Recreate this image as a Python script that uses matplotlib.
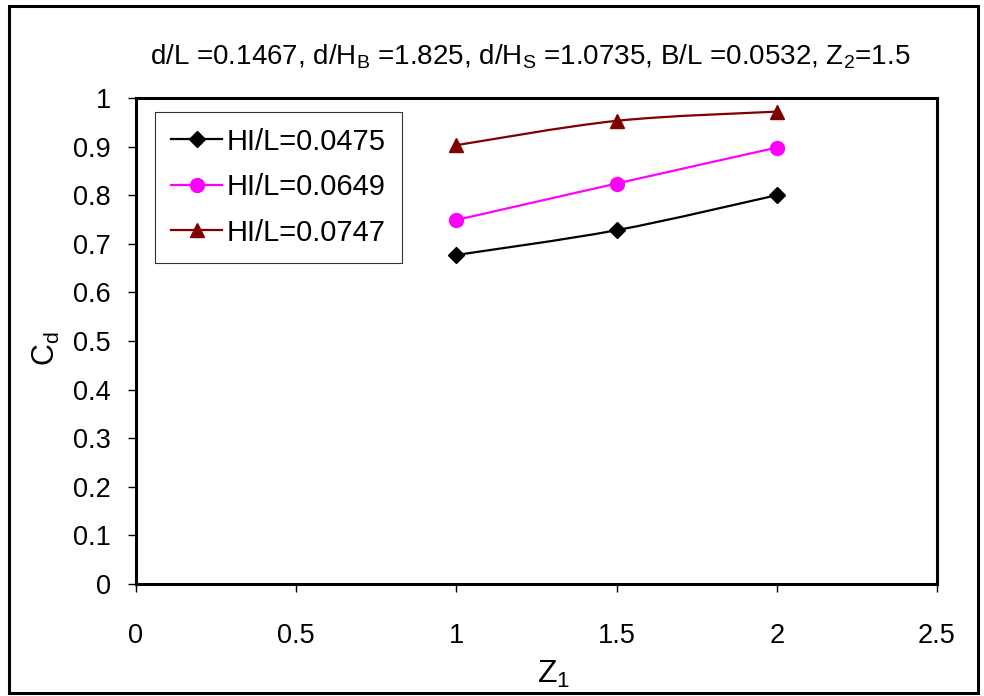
import numpy as np
import matplotlib.pyplot as plt
from matplotlib.path import Path
from matplotlib.patches import PathPatch, Rectangle

plt.rcParams['font.family'] = ['Liberation Sans', 'DejaVu Sans']
plt.rcParams['mathtext.fontset'] = 'custom'
plt.rcParams['mathtext.rm'] = 'Liberation Sans'
plt.rcParams['mathtext.it'] = 'Liberation Sans'

# data
z1 = [1.0, 1.5, 2.0]
cd_0475 = [0.677, 0.728, 0.800]
cd_0649 = [0.749, 0.824, 0.898]
cd_0747 = [0.903, 0.953, 0.972]
labels = ['HI/L=0.0475', 'HI/L=0.0649', 'HI/L=0.0747']
xticks = [0, 0.5, 1, 1.5, 2, 2.5]
yticks = [0, 0.1, 0.2, 0.3, 0.4, 0.5, 0.6, 0.7, 0.8, 0.9, 1]


def smooth_path(x, y):
    # bezier through the points, like a spreadsheet "smoothed line"
    x = np.asarray(x, float)
    y = np.asarray(y, float)
    verts = [(x[0], y[0])]
    codes = [Path.MOVETO]
    n = len(x)
    for i in range(n - 1):
        p0 = (x[max(i - 1, 0)], y[max(i - 1, 0)])
        p1 = (x[i], y[i])
        p2 = (x[i + 1], y[i + 1])
        p3 = (x[min(i + 2, n - 1)], y[min(i + 2, n - 1)])
        c1 = (p1[0] + (p2[0] - p0[0]) / 6, p1[1] + (p2[1] - p0[1]) / 6)
        c2 = (p2[0] - (p3[0] - p1[0]) / 6, p2[1] - (p3[1] - p1[1]) / 6)
        verts += [c1, c2, p2]
        codes += [Path.CURVE4] * 3
    return Path(verts, codes)


fig = plt.figure(figsize=(9.84, 6.96), dpi=100)
ax = fig.add_axes([0.1382, 0.1609, 0.814, 0.6983])

# outer frame round the whole chart
fig.patches.append(Rectangle((9 / 984, 3 / 696), 969 / 984, 687 / 696,
                             transform=fig.transFigure, fill=False,
                             edgecolor='black', linewidth=2.2))

series = [(cd_0475, 'black', 'D', 8),
          (cd_0649, '#FF00FF', 'o', 10),
          (cd_0747, '#800000', '^', 10)]
for (vals, col, mk, ms), lab in zip(series, labels):
    ax.add_patch(PathPatch(smooth_path(z1, vals), fill=False,
                           edgecolor=col, linewidth=1.6))
    ax.plot(z1, vals, color=col, marker=mk, markersize=ms, linestyle='-',
            linewidth=0, label=lab)

# legend handles drawn with line and marker
handles = [plt.Line2D([], [], color=c, marker=m, markersize=s, linewidth=1.6)
           for _, c, m, s in series]
leg = ax.legend(handles, labels, loc='upper left', bbox_to_anchor=(0.024, 0.972),
                fontsize=21, frameon=True, fancybox=False, handlelength=1.75,
                handletextpad=0.15, borderpad=0.55, labelspacing=0.6,
                borderaxespad=0)
leg.get_frame().set_edgecolor('black')
leg.get_frame().set_linewidth(0.8)

ax.set_xlim(0, 2.5)
ax.set_ylim(0, 1)
ax.set_xticks(xticks)
ax.set_xticklabels(['0', '0.5', '1', '1.5', '2', '2.5'])
ax.set_yticks(yticks)
ax.set_yticklabels(['0', '0.1', '0.2', '0.3', '0.4', '0.5', '0.6', '0.7',
                    '0.8', '0.9', '1'])
ax.tick_params(axis='both', direction='out', length=6, width=1, labelsize=19.5)
ax.tick_params(axis='x', pad=22)
ax.tick_params(axis='y', pad=12)
for sp in ax.spines.values():
    sp.set_linewidth(2.2)

ax.set_xlabel('Z$_1$', fontsize=23, labelpad=7, x=0.522)
ax.set_ylabel('C$_\\mathrm{d}$', fontsize=22, labelpad=8, y=0.485)
ax.set_title('d/L =0.1467, d/H$_\\mathrm{B}$ =1.825, d/H$_\\mathrm{S}$ =1.0735, '
             'B/L =0.0532, Z$_2$=1.5', fontsize=20, pad=24, x=0.492)

fig.savefig('out.png', dpi=100)
